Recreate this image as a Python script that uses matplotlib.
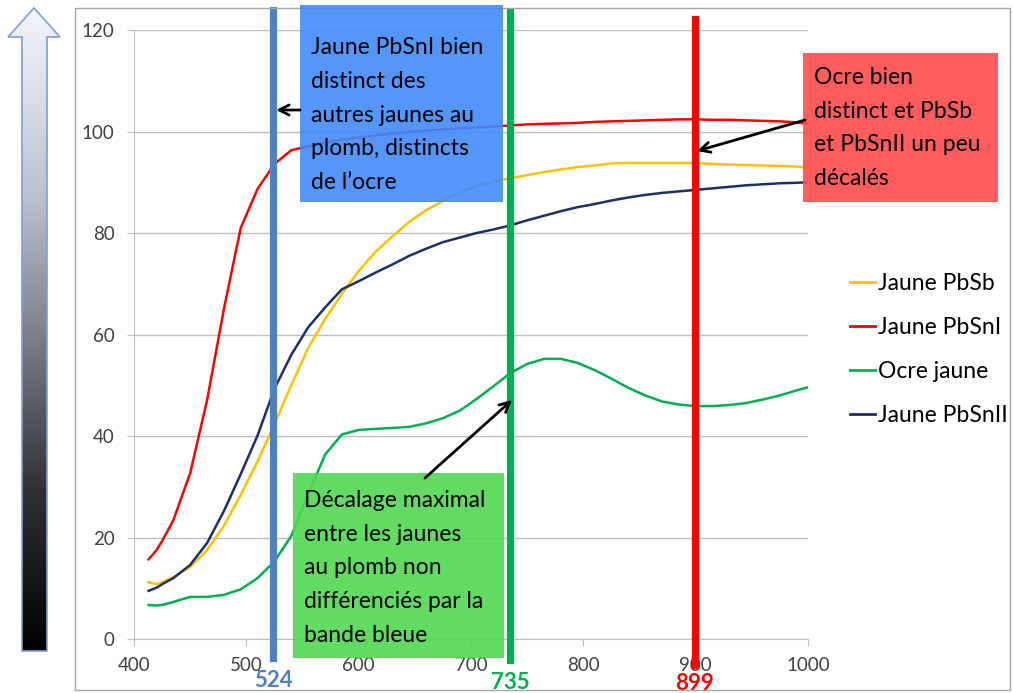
import numpy as np
import matplotlib.pyplot as plt
from matplotlib.patches import Rectangle, Polygon
from matplotlib.colors import LinearSegmentedColormap

plt.rcParams['font.family'] = ['Lato', 'DejaVu Sans']

# wavelengths (nm) and reflectance (%)
wavelength = [413, 420, 425, 435, 450, 465, 480, 495, 510, 525, 540, 555, 570, 585,
              600, 615, 630, 645, 660, 675, 690, 705, 720, 735, 750, 765, 780, 795,
              810, 825, 840, 855, 870, 885, 900, 915, 930, 945, 960, 975, 990, 1000]
jaune_pbsb = [11.2, 10.8, 11.2, 12.2, 14.2, 17.5, 22.3, 28.4, 35, 42.3, 50, 57.3, 63, 68,
              72.5, 76.3, 79.3, 82.2, 84.5, 86.3, 88, 89.3, 90.1, 90.8, 91.4, 92, 92.5, 93,
              93.3, 93.7, 93.8, 93.8, 93.8, 93.8, 93.8, 93.6, 93.5, 93.4, 93.3, 93.2, 93.1, 92.8]
jaune_pbsn1 = [15.7, 17.5, 19.3, 23.4, 32.7, 47, 65, 81, 88.7, 93.6, 96.3, 97.1, 97.8, 98.4,
               98.8, 99.2, 99.6, 99.9, 100.2, 100.4, 100.6, 100.8, 101.0, 101.2, 101.4, 101.5, 101.6, 101.7,
               101.9, 102.0, 102.1, 102.2, 102.3, 102.4, 102.4, 102.3, 102.3, 102.2, 102.1, 102.0, 101.8, 101.5]
ocre_jaune = [6.7, 6.6, 6.7, 7.3, 8.3, 8.3, 8.7, 9.8, 12, 15.3, 20.3, 28.5, 36.3, 40.3,
              41.2, 41.4, 41.6, 41.8, 42.5, 43.5, 45, 47.3, 49.8, 52.4, 54.2, 55.2, 55.2, 54.4,
              53, 51.3, 49.5, 48, 46.8, 46.2, 45.9, 45.9, 46.1, 46.5, 47.2, 48, 49.0, 49.6]
jaune_pbsn2 = [9.5, 10.1, 10.8, 12, 14.6, 18.9, 25.2, 32.5, 40.1, 49.3, 56, 61.4, 65.3, 68.9,
               70.5, 72.2, 73.8, 75.5, 76.9, 78.2, 79.1, 80, 80.7, 81.5, 82.5, 83.4, 84.3, 85.1,
               85.7, 86.4, 87, 87.5, 87.9, 88.2, 88.5, 88.8, 89.1, 89.4, 89.6, 89.8, 89.9, 90]

series_names = ['Jaune PbSb', 'Jaune PbSnI', 'Ocre jaune', 'Jaune PbSnII']
series_colors = ['#ffc000', '#ff0000', '#00b050', '#1c2f6b']

marker_nm = [524, 735, 899]
marker_colors = ['#4f81bd', '#00b050', '#ff0000']

fig = plt.figure(figsize=(10.13, 6.93), dpi=100)
ax = fig.add_axes([0.1323, 0.0779, 0.6653, 0.8788])

for ys, name, col in zip([jaune_pbsb, jaune_pbsn1, ocre_jaune, jaune_pbsn2], series_names, series_colors):
    ax.plot(wavelength, ys, color=col, lw=1.8, label=name, zorder=3)

ax.set_xlim(400, 1000)
ax.set_ylim(0, 120)
ax.set_xticks(range(400, 1001, 100))
ax.set_yticks(range(0, 121, 20))
ax.grid(axis='y', color='#bfbfbf', lw=1)
ax.set_axisbelow(True)
for s in ['top', 'right']:
    ax.spines[s].set_visible(False)
for s in ['left', 'bottom']:
    ax.spines[s].set_color('#bfbfbf')
ax.tick_params(axis='both', colors='#bfbfbf', labelcolor='#404040', labelsize=13.5, length=5)
ax.tick_params(axis='y', pad=9)
ax.tick_params(axis='x', pad=8)

# marker bands
label_y = [-0.068, -0.072, -0.073]
for nm, col, ly, (lo, hi) in zip(marker_nm, marker_colors, label_y,
                                 [(-0.031, 1.033), (-0.034, 1.030), (-0.043, 1.018)]):
    ax.axvline(nm, ymin=lo, ymax=hi, color=col, lw=5.2, clip_on=False, zorder=4)
    ax.text(nm, ly, str(nm), transform=ax.get_xaxis_transform(), ha='center', va='center',
            fontsize=16, fontweight='bold', color=col)

ax.legend(loc='upper left', bbox_to_anchor=(0.839, 0.606), bbox_transform=fig.transFigure,
          frameon=False, fontsize=16.5, handlelength=1.1, handletextpad=0.12,
          labelspacing=1.0, borderpad=0, borderaxespad=0)
for ln in ax.get_legend().get_lines():
    ln.set_linewidth(2)

# overlay in pixel coordinates for annotations and decorations
ov = fig.add_axes([0, 0, 1, 1], zorder=5)
ov.patch.set_visible(False)
ov.axis('off')

cmap = LinearSegmentedColormap.from_list('arrow', [(0, '#f3f6fc'), (0.3, '#b9c0cc'), (0.5, '#7e838c'),
                                                   (0.75, '#2f3135'), (1, '#000000')])
grad = np.linspace(0, 1, 256).reshape(-1, 1)
im = ov.imshow(grad, extent=[8, 60, 651, 8], cmap=cmap, aspect='auto', zorder=1)
arrow_shape = Polygon([(34, 8), (60, 37), (47, 37), (47, 651), (22, 651), (22, 37), (8, 37)],
                      closed=True, fc='none', ec='#7f9fd0', lw=1.2, zorder=2)
ov.add_patch(arrow_shape)
im.set_clip_path(arrow_shape)

ov.add_patch(Rectangle((75, 8), 935, 682, fill=False, ec='#a6a6a6', lw=1, zorder=1))

boxes = [((300, 5), 203, 197, '#428bfa', (311, 115),
          "Jaune PbSnI bien\ndistinct des\nautres jaunes au\nplomb, distincts\nde l\u2019ocre"),
         ((803, 53), 195, 149, '#ff4b4b', (814, 128),
          "Ocre bien\ndistinct et PbSb\net PbSnII un peu\nd\u00e9cal\u00e9s"),
         ((293, 473), 211, 185, '#50d850', (304, 568),
          "D\u00e9calage maximal\nentre les jaunes\nau plomb non\ndiff\u00e9renci\u00e9s par la\nbande bleue")]
for xy, w, h, col, txy, txt in boxes:
    ov.add_patch(Rectangle(xy, w, h, fc=col, ec='none', alpha=0.9, zorder=3))
    ov.text(txy[0], txy[1], txt, ha='left', va='center', fontsize=16.5, linespacing=1.76,
            color='black', zorder=4)

for tail, tip in [((300, 110), (276, 110)), ((805, 120), (697, 151)), ((425, 478), (512, 400))]:
    ov.annotate('', xy=tip, xytext=tail,
                arrowprops=dict(arrowstyle='->', lw=2, color='black', shrinkA=0, shrinkB=0,
                                mutation_scale=18), zorder=5)

ov.set_xlim(0, 1013)
ov.set_ylim(693, 0)

fig.savefig('out.png', dpi=100)
